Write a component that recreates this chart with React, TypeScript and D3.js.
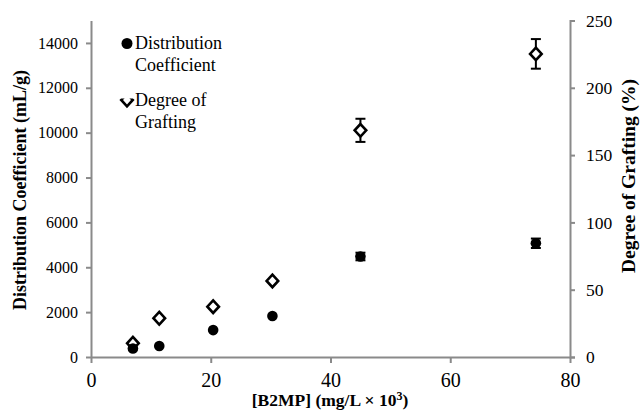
import React, { useEffect, useRef } from 'react';
import * as d3 from 'd3';

// [B2MP] (mg/L x 10^3)
const conc = [7, 11.4, 20.4, 30.3, 45, 74.3];
// distribution coefficient (mL/g), left axis
const distCoef = [380, 490, 1200, 1830, 4480, 5070];
const distErr = [0, 0, 0, 0, 170, 210];
// degree of grafting (%), right axis
const grafting = [10.2, 28.8, 37.4, 56.5, 168.4, 225.2];
const graftErr = [0, 0, 0, 0, 8.6, 11];

const xTicks = [0, 20, 40, 60, 80];
const leftTicks = [0, 2000, 4000, 6000, 8000, 10000, 12000, 14000];
const rightTicks = [0, 50, 100, 150, 200, 250];

const W = 641;
const H = 415;
const FONT = 'Liberation Serif, DejaVu Serif, serif';
const AXIS = '#8a8a8a';

const App = () => {
  const ref = useRef<SVGSVGElement>(null);

  useEffect(() => {
    const svg = d3.select(ref.current);
    svg.selectAll('*').remove();

    const x = d3.scaleLinear().domain([0, 80]).range([91, 570]);
    const yL = d3.scaleLinear().domain([0, 15000]).range([357, 20.5]);
    const yR = d3.scaleLinear().domain([0, 250]).range([357, 20.5]);
    const fmt = d3.format('d');

    // axes
    const xAxis = svg.append('g')
      .attr('transform', `translate(0,${yL(0)})`)
      .call(d3.axisBottom(x).tickValues(xTicks).tickFormat(fmt).tickSize(6).tickSizeOuter(0));
    xAxis.selectAll('text').attr('font-size', 20).attr('y', 30).attr('dy', 0);

    const lAxis = svg.append('g')
      .attr('transform', `translate(${x(0)},0)`)
      .call(d3.axisLeft(yL).tickValues(leftTicks).tickFormat(fmt).tickSize(5).tickPadding(8).tickSizeOuter(0));
    lAxis.selectAll('text').attr('font-size', 16);

    const rAxis = svg.append('g')
      .attr('transform', `translate(${x(80)},0)`)
      .call(d3.axisRight(yR).tickValues(rightTicks).tickFormat(fmt).tickSize(5).tickPadding(11).tickSizeOuter(5));
    rAxis.selectAll('text').attr('font-size', 17.5);

    svg.selectAll('g').attr('font-family', null).attr('font-size', null);
    svg.selectAll('.domain, .tick line').attr('stroke', AXIS).attr('stroke-width', 2);
    svg.selectAll('.tick text').attr('fill', '#000');

    // axis titles
    svg.append('text')
      .text('Distribution Coefficient (mL/g)')
      .attr('transform', `translate(26,190) rotate(-90)`)
      .attr('text-anchor', 'middle')
      .attr('font-weight', 'bold').attr('font-size', 18);

    svg.append('text')
      .text('Degree of Grafting (%)')
      .attr('transform', `translate(635,176) rotate(-90)`)
      .attr('text-anchor', 'middle')
      .attr('font-weight', 'bold').attr('font-size', 19.5);

    const xt = svg.append('text')
      .attr('x', 330).attr('y', 406)
      .attr('text-anchor', 'middle')
      .attr('font-weight', 'bold').attr('font-size', 17.5);
    xt.append('tspan').text('[B2MP] (mg/L \u00d7 10');
    xt.append('tspan').text('3').attr('dy', -6).attr('font-size', 12);
    xt.append('tspan').text(')').attr('dy', 6);

    const pts = conc.map((c, i) => ({ c, d: distCoef[i], de: distErr[i], g: grafting[i], ge: graftErr[i] }));

    // error bars
    const eb = svg.append('g').attr('stroke', '#000').attr('stroke-width', 2);
    pts.filter((p) => p.ge > 0).forEach((p) => {
      const cx = x(p.c);
      eb.append('line').attr('x1', cx).attr('x2', cx).attr('y1', yR(p.g - p.ge)).attr('y2', yR(p.g + p.ge));
      [p.g - p.ge, p.g + p.ge].forEach((v) => {
        eb.append('line').attr('x1', cx - 5).attr('x2', cx + 5).attr('y1', yR(v)).attr('y2', yR(v));
      });
    });
    pts.filter((p) => p.de > 0).forEach((p) => {
      const cx = x(p.c);
      [p.d - p.de, p.d + p.de].forEach((v) => {
        eb.append('line').attr('x1', cx - 5).attr('x2', cx + 5).attr('y1', yL(v)).attr('y2', yL(v));
      });
    });

    const diamond = (cx: number, cy: number) => `M${cx},${cy - 6.3}L${cx + 5.8},${cy}L${cx},${cy + 6.3}L${cx - 5.8},${cy}Z`;

    // grafting diamonds
    svg.append('g').selectAll('path').data(pts).enter().append('path')
      .attr('d', (p) => diamond(x(p.c), yR(p.g)))
      .attr('fill', '#fff').attr('stroke', '#000').attr('stroke-width', 2.6);

    // distribution circles
    svg.append('g').selectAll('circle').data(pts).enter().append('circle')
      .attr('cx', (p) => x(p.c)).attr('cy', (p) => yL(p.d)).attr('r', 5.3)
      .attr('fill', '#000');

    // legend
    const lg = svg.append('g').attr('font-size', 18);
    lg.append('circle').attr('cx', 127).attr('cy', 43.5).attr('r', 5.5).attr('fill', '#000');
    lg.append('text').attr('x', 135).attr('y', 49).text('Distribution');
    lg.append('text').attr('x', 135).attr('y', 71).text('Coefficient');
    lg.append('clipPath').attr('id', 'lgclip').append('rect').attr('x', 119).attr('y', 98.5).attr('width', 16).attr('height', 12);
    lg.append('path').attr('d', diamond(127, 100)).attr('fill', '#fff').attr('stroke', '#000')
      .attr('stroke-width', 2.6).attr('clip-path', 'url(#lgclip)');
    lg.append('text').attr('x', 135).attr('y', 106).text('Degree of');
    lg.append('text').attr('x', 135).attr('y', 128).text('Grafting');
  }, []);

  return (
    <svg ref={ref} width={W} height={H}
      style={{ position: 'absolute', left: 0, top: 0, background: '#fff', fontFamily: FONT }} />
  );
};

export default App;
